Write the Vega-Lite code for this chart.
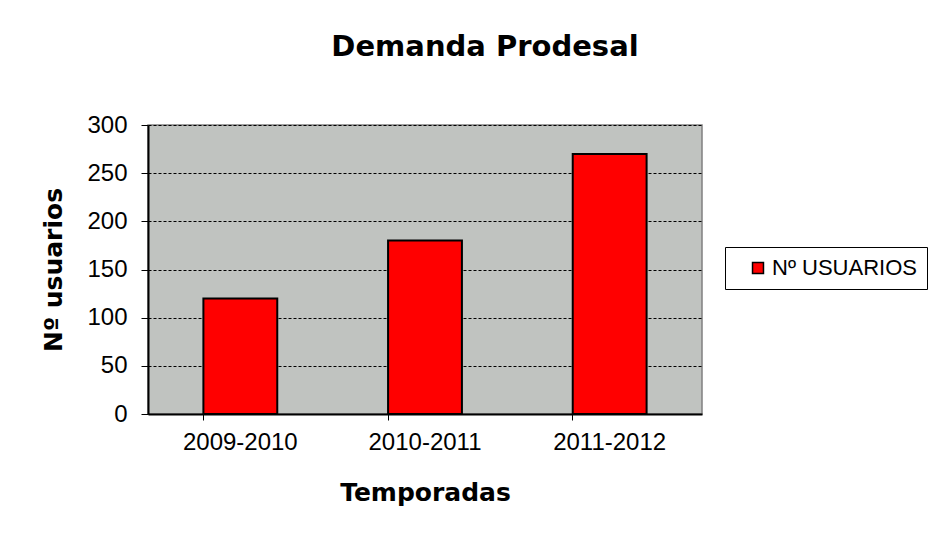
{
  "$schema": "https://vega.github.io/schema/vega-lite/v6.json",
  "width": 554,
  "height": 289,
  "autosize": {"type": "none"},
  "padding": {"left": 148, "top": 125, "right": 227, "bottom": 123},
  "background": "white",
  "title": {
    "text": "Demanda Prodesal",
    "font": "DejaVu Sans",
    "fontWeight": "bold",
    "fontSize": 29,
    "color": "black",
    "anchor": "middle",
    "dx": 60,
    "offset": 51
  },
  "data": {
    "values": [
      {"temporada": "2009-2010", "usuarios": 120, "serie": "Nº USUARIOS"},
      {"temporada": "2010-2011", "usuarios": 180, "serie": "Nº USUARIOS"},
      {"temporada": "2011-2012", "usuarios": 270, "serie": "Nº USUARIOS"}
    ]
  },
  "mark": {"type": "bar", "stroke": "black", "strokeWidth": 2},
  "encoding": {
    "x": {
      "field": "temporada",
      "type": "nominal",
      "sort": null,
      "scale": {"paddingInner": 0.6, "paddingOuter": 0.3},
      "axis": {
        "title": "Temporadas",
        "titleFont": "DejaVu Sans",
        "titleFontWeight": "bold",
        "titleFontSize": 25,
        "titleColor": "black",
        "titlePadding": 26,
        "labelFont": "Liberation Sans",
        "labelFontSize": 24,
        "labelColor": "black",
        "labelAngle": 0,
        "labelPadding": 10,
        "domainColor": "black",
        "domainWidth": 2,
        "tickColor": "black",
        "tickSize": 6,
        "bandPosition": 0,
        "grid": false
      }
    },
    "y": {
      "field": "usuarios",
      "type": "quantitative",
      "scale": {"domain": [0, 300], "nice": false},
      "axis": {
        "values": [0, 50, 100, 150, 200, 250, 300],
        "title": "Nº usuarios",
        "titleFont": "DejaVu Sans",
        "titleFontWeight": "bold",
        "titleFontSize": 25,
        "titleColor": "black",
        "titlePadding": 20,
        "labelFont": "Liberation Sans",
        "labelFontSize": 24,
        "labelColor": "black",
        "labelPadding": 14,
        "domainColor": "black",
        "domainWidth": 2,
        "tickColor": "black",
        "tickSize": 7,
        "grid": true,
        "gridColor": "black",
        "gridDash": [3, 2],
        "gridWidth": 1.2
      }
    },
    "color": {
      "field": "serie",
      "type": "nominal",
      "scale": {"range": ["#ff0000"]},
      "legend": {
        "title": null,
        "orient": "none",
        "legendX": 577,
        "legendY": 122,
        "direction": "vertical",
        "fillColor": "white",
        "strokeColor": "black",
        "padding": 10,
        "labelFont": "Liberation Sans",
        "labelFontSize": 22,
        "labelColor": "black",
        "labelLimit": 300,
        "symbolType": "square",
        "symbolSize": 120,
        "symbolStrokeColor": "black",
        "symbolStrokeWidth": 1.5,
        "symbolOpacity": 1,
        "labelOffset": 3,
        "symbolOffset": 12
      }
    }
  },
  "config": {
    "view": {"fill": "#c0c3c0", "stroke": "#808080", "strokeWidth": 1.5},
    "legend": {"offset": 0}
  }
}
